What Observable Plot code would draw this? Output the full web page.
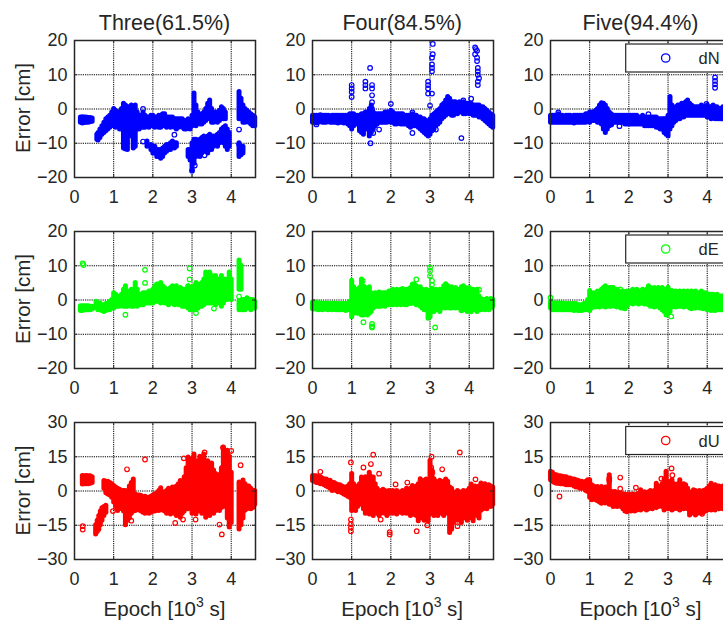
<!DOCTYPE html>
<html><head><meta charset="utf-8">
<script src="https://cdn.jsdelivr.net/npm/d3@7"></script>
<script src="https://cdn.jsdelivr.net/npm/@observablehq/plot@0.6"></script>
<style>
html,body{margin:0;padding:0;background:#fff;}
#wrap{position:relative;width:723px;height:622px;overflow:hidden;font-family:"Liberation Sans",Arial,sans-serif;color:#262626;}
#wrap svg{position:absolute;}
</style></head><body><div id="wrap"></div>
<script>
// ---------- labels / ticks ----------
const colTitles = ["Three(61.5%)", "Four(84.5%)", "Five(94.4%)"];
const seriesNames = ["dN", "dE", "dU"];
const seriesColors = ["#0000ff", "#00ff00", "#ff0000"];
const xTicks = [0, 1, 2, 3, 4];
const xDomain = [0, 4.62];
const yTicksNE = [-20, -10, 0, 10, 20];
const yTicksU = [-30, -15, 0, 15, 30];
const yLabel = "Error [cm]";
const xLabel = "Epoch [10";

// ---------- data: dense bands [epoch(10^3 s), low, high] and isolated points [epoch, value] ----------
// Three / dN
const threeN_band = [[0.15,-4,-2.5],[0.2,-4.2,-2.4],[0.25,-4.1,-2.5],[0.3,-4,-2.5],[0.35,-4,-2.6],[0.4,-3.9,-2.6],[0.45,-3.7,-2.8],
[0.57,-9,-7.5],[0.6,-9.2,-7],[0.65,-8.5,-6],[0.7,-7.5,-5],[0.75,-7,-4],[0.8,-6.5,-3],[0.85,-6,-2.5],[0.9,-5.5,-2],[0.95,-5,-1],[1.0,-5,0],[1.05,-5.5,-0.5],[1.1,-5,-1],[1.15,-6,-1],[1.2,-6,0],[1.25,-11.5,1.5],[1.3,-10,1],[1.35,-12,0.5],[1.4,-7,0.5],[1.45,-8,1],[1.5,-11.5,0.5],[1.55,-11,1],[1.6,-6,-1],[1.65,-6,-2],[1.7,-5.5,-2],[1.75,-5.5,-1],[1.8,-5.5,-2],[1.85,-5,-2.5],[1.9,-5.5,-2.5],[1.95,-5,-2],[2.0,-5,-2],[2.05,-5.5,-2.5],[2.1,-5,-2.5],[2.15,-5.5,-2],[2.2,-5.5,-2],[2.25,-5,-1.5],[2.3,-5,-1.5],[2.35,-5.5,-2.5],[2.4,-5,-2.5],[2.45,-5.5,-2.5],[2.5,-5,-2.5],[2.55,-5.5,-3],[2.6,-6,-3],[2.65,-5.5,-3],[2.7,-5,-3],[2.75,-5.5,-3],[2.8,-6,-3.5],[2.85,-6,-3.5],[2.9,-5.5,-3],[2.95,-6,-3.5],[3.0,-5,-2],[3.05,-4,4.5],[3.1,-5,1],[3.15,-4,-1],[3.2,-4.5,-2],[3.25,-4.5,-1.5],[3.3,-4,-1],[3.35,-3.5,0],[3.4,-3,1.5],[3.45,-3,2.5],[3.5,-4,0],[3.55,-4,-1],[3.6,-3,-1],[3.65,-4,-1],[3.7,-3.5,-0.5],[3.75,-2.5,0.5],[3.8,-3,0],[3.85,-3,-1],
[4.2,-3,5],[4.25,-3,3],[4.3,-4,1],[4.35,-4,0],[4.4,-3.5,-0.5],[4.45,-4,-1],[4.5,-4.5,-1.5],[4.55,-5,-2],[4.6,-5,-2.5],
[1.85,-11,-9.5],[1.95,-12,-10.5],[2.0,-13,-11],[2.05,-13,-11],[2.1,-14,-12],[2.15,-14,-12],[2.2,-14.5,-12],[2.25,-14,-11.5],[2.3,-13,-11],[2.35,-12.5,-10.5],[2.4,-12,-10.5],[2.45,-12,-10],[2.5,-11,-9.5],[2.55,-11.5,-10],[2.6,-11,-10],
[2.9,-14,-12],[2.95,-15,-12],[3.0,-18,-10],[3.05,-16,-9],[3.1,-14,-9],[3.15,-13,-9.5],[3.2,-14,-9],[3.25,-13,-8.5],[3.3,-12,-8],[3.35,-12.5,-8.5],[3.4,-13,-8],[3.45,-12,-7.5],[3.5,-12,-8],[3.55,-11,-8],[3.6,-10.5,-8],[3.65,-11,-7.5],[3.7,-10,-7],[3.75,-9.5,-6],[3.8,-10,-5.5],[3.85,-11,-5],[3.9,-12,-6],[3.95,-11,-7],
[4.2,-14,-10],[4.25,-13.5,-11],[4.3,-13,-11]];
const threeN_pts = [[1.75,-9.5],[1.75,0],[2.55,-7.5],[3.32,-13.5],[3.0,-18],[4.2,-6],[4.2,-10.3],[1.3,-11.5],[3.07,-16.5]];
// Four / dN
const fourN_band = [[0,-4,-2],[0.05,-4,-2],[0.1,-4.2,-2],[0.15,-4,-2],[0.2,-3.8,-1.8],[0.25,-4,-2],[0.3,-4,-2],[0.35,-4,-2],[0.4,-3.8,-2],[0.45,-4,-2.2],[0.5,-4,-2],[0.55,-4,-2],[0.6,-4,-2],[0.65,-4.2,-2],[0.7,-4,-2],[0.75,-4,-2],[0.8,-4.2,-2],[0.85,-4,-2],[0.9,-4.5,-2],[0.95,-5,-1.5],[1.0,-6,-1.5],[1.05,-5,-1.5],[1.1,-4.5,-2],[1.15,-4.5,-2],[1.2,-6.5,-2],[1.25,-7,-1.5],[1.3,-7.5,-1.5],[1.35,-6,-1],[1.4,-6,-1],[1.45,-8,0],[1.5,-7,1],[1.55,-6,-1],[1.6,-5,-1.5],[1.65,-4.5,-1.5],[1.7,-4,-1.5],[1.75,-4,-1.5],[1.8,-4,-1.5],[1.85,-4,-1],[1.9,-4,-1],[1.95,-3.5,-1],[2.0,-4,-0.5],[2.05,-4,-1],[2.1,-4.5,-1.5],[2.15,-4.5,-1.5],[2.2,-4,-1.5],[2.25,-4.5,-1.5],[2.3,-4.5,-1.5],[2.35,-4.5,-2],[2.4,-4.5,-2],[2.45,-5,-2],[2.5,-5.5,-2],[2.55,-5,-1.5],[2.6,-5,-2],[2.65,-5,-2],[2.7,-5.5,-2.5],[2.75,-6,-2.5],[2.8,-6.5,-3],[2.85,-7,-3],[2.9,-7.5,-3.5],[2.95,-8,-4],[3.0,-7.5,-3],[3.05,-6.5,-2],[3.1,-6,-1.5],[3.15,-5,-1],[3.2,-4.5,-0.5],[3.25,-4,0],[3.3,-3,1],[3.35,-2.5,1.5],[3.4,-2,2.5],[3.45,-1.5,3.5],[3.5,-1.5,3],[3.55,-2,2],[3.6,-2,2],[3.65,-1.5,2],[3.7,-1.5,1.5],[3.75,-1,2],[3.8,-1,1.5],[3.85,-1.5,2],[3.9,-1.5,1.5],[3.95,-1,1.5],[4.0,-1.5,1.5],[4.05,-1.5,1.5],[4.1,-2,1],[4.15,-2,1],[4.2,-2,1],[4.25,-2.5,1],[4.3,-2.5,0.5],[4.35,-3,0.5],[4.4,-3.5,0],[4.45,-4,-0.5],[4.5,-4.5,-1],[4.55,-5,-1.5],[4.6,-5.5,-2]];
const fourN_pts = [[0.1,-4.5],[1.0,3.5],[1.0,5],[1.0,6],[1.0,7],[1.35,6],[1.35,7],[1.35,8],[1.47,12],[1.52,0],[1.52,2],[1.52,4],[1.52,6],[1.52,7],[1.48,-10],[1.55,-7],[1.7,-6],[2.0,1.5],[2.55,-1],[2.55,-7],[2.95,4.5],[2.95,6],[2.95,7],[2.95,8],[3.05,11],[3.05,12],[3.05,13],[3.05,15],[3.07,16],[3.07,19],[3.05,4.5],[3.0,1],[3.15,-6],[3.8,-8.5],[3.85,2.5],[4.05,3],[4.15,18],[4.17,17.5],[4.15,16],[4.2,17],[4.2,15],[4.2,14],[4.22,12],[4.22,11],[4.22,10],[4.25,9],[4.22,8],[4.22,7]];
// Five / dN
const fiveN_band = [[0,-4,-2],[0.05,-4,-2],[0.1,-4,-2],[0.15,-4,-2],[0.2,-4,-1.5],[0.25,-4,-2],[0.3,-4,-2],[0.35,-4,-2.2],[0.4,-4,-2],[0.45,-4,-2],[0.5,-4,-2],[0.55,-4,-2.2],[0.6,-4.2,-2],[0.65,-4,-2],[0.7,-4,-2],[0.75,-4,-2],[0.8,-4,-2],[0.85,-4,-2],[0.9,-4,-1.5],[0.95,-3.8,-1.5],[1.0,-4,-1],[1.05,-3.5,-1],[1.1,-3.5,-1],[1.15,-3.5,-0.5],[1.2,-4,0],[1.25,-4,1],[1.3,-4.5,1.7],[1.35,-6,1.5],[1.4,-7,1],[1.45,-6,0],[1.5,-5,-1],[1.55,-4.5,-1.5],[1.6,-4,-2],[1.65,-4,-2],[1.7,-4,-2],[1.75,-4,-2],[1.8,-4,-2],[1.85,-4,-2],[1.9,-4.5,-2],[1.95,-4.5,-2],[2.0,-4.5,-2],[2.05,-4.5,-2],[2.1,-4.5,-2],[2.15,-4.5,-2],[2.2,-4.5,-2],[2.25,-4.5,-2.5],[2.3,-4.5,-2.5],[2.35,-4.5,-2],[2.4,-5,-2.5],[2.45,-5,-2.5],[2.5,-5,-2.5],[2.55,-5,-2.5],[2.6,-5,-2.5],[2.65,-5,-2.5],[2.7,-5.5,-2.5],[2.75,-5.5,-3],[2.8,-6,-3],[2.85,-6,-3],[2.9,-7,-3],[2.95,-7.5,-3],[3.0,-8,-2],[3.05,-6,3.5],[3.1,-5,1],[3.15,-4,0],[3.2,-3.5,0.5],[3.25,-3,1],[3.3,-3,1],[3.35,-2.5,1.5],[3.4,-2.5,1.5],[3.45,-2,2],[3.5,-2,2.5],[3.55,-2,1.5],[3.6,-2,1],[3.65,-2,0.5],[3.7,-2,0.5],[3.75,-2,0.5],[3.8,-2,0.5],[3.85,-2,1],[3.9,-2,0.5],[3.95,-2,0.5],[4.0,-2.5,1],[4.05,-2.5,0.5],[4.1,-3,0.5],[4.15,-2.5,1],[4.2,-3,0.5],[4.25,-3,0.5],[4.3,-3,0],[4.35,-3,0],[4.4,-3,0.5],[4.45,-3,0],[4.5,-3,0],[4.55,-3,0],[4.6,-3,0]];
const fiveN_pts = [[0.2,-1],[1.55,-4.5],[1.76,-5],[2.5,-1.5],[2.9,-3],[3.98,1.5],[4.2,9.2],[4.2,8.2],[4.2,7.2],[4.2,6.2]];
// Three / dE
const threeE_band = [[0.15,-3.2,-1.8],[0.2,-3.2,-1.8],[0.25,-3,-1.8],[0.3,-3,-1.8],[0.35,-3,-1.8],[0.4,-3,-2],[0.45,-2.8,-2],
[0.55,-2.5,-0.5],[0.6,-3,-1],[0.65,-3,-1],[0.7,-3.2,-1.5],[0.75,-3.5,-1.5],[0.8,-3.2,-1.2],[0.85,-3,-1],[0.9,-3,-0.5],[0.95,-2.5,0],[1.0,-2.5,2],[1.05,-2,1.5],[1.1,-2,1],[1.15,-2,0.5],[1.2,-1.5,1.5],[1.25,-2,3],[1.3,-2,4],[1.35,-2,2],[1.4,-1.5,2.5],[1.45,-2,3],[1.5,-2,2.5],[1.55,-1.5,5],[1.6,-2,3],[1.65,-1.5,1.5],[1.7,-1.5,1.5],[1.75,-1.5,2],[1.8,-1,2],[1.85,-1,2],[1.9,-1,2.5],[1.95,-1,2.5],[2.0,-1,3],[2.05,-0.5,4],[2.1,-0.5,4.5],[2.15,-0.5,4.5],[2.2,-1,5],[2.25,-0.5,4],[2.3,-1,3.5],[2.35,-1,3],[2.4,-1.5,3],[2.45,-1,3.5],[2.5,-1,4],[2.55,-1.5,3.5],[2.6,-1,4],[2.65,-1.5,3],[2.7,-1.5,3.5],[2.75,-2,3],[2.8,-2,3],[2.85,-2,3],[2.9,-2.5,4],[2.95,-3,3],[3.0,-3,3.5],[3.05,-2.5,4],[3.1,-3,5],[3.15,-2.5,4.5],[3.2,-2,4],[3.25,-2,5],[3.3,-1.5,6],[3.35,-1,8],[3.4,-1,7],[3.45,-1,8],[3.5,-1,7],[3.55,-1,6],[3.6,-1.5,7],[3.65,-1,5],[3.7,-1,6],[3.75,-2,7],[3.8,-1,5],[3.85,0,6],[3.9,0,5],[3.95,1,8],[4.0,0,6],
[4.2,3,11.5],[4.25,3,10],
[4.2,-3,-0.5],[4.25,-3,-0.5],[4.3,-3,0],[4.35,-3,0],[4.4,-2.5,0.5],[4.45,-2.5,0],[4.5,-3,0],[4.55,-2.5,0],[4.6,-2.5,-0.5]];
const threeE_pts = [[0.21,10.7],[0.23,10.2],[1.3,-4.3],[1.8,8.8],[1.8,5],[2.94,9.2],[2.94,6],[2.9,4],[3.1,-3.8],[3.56,-2.5],[4.2,1]];
// Four / dE
const fourE_band = [[0,-2.7,-0.7],[0.05,-2.8,-1],[0.1,-2.8,-0.8],[0.15,-3,-1],[0.2,-2.8,-1],[0.25,-3,-1],[0.3,-2.8,-1.2],[0.35,-2.8,-1],[0.4,-3,-1.2],[0.45,-2.8,-1.2],[0.5,-3,-1.2],[0.55,-2.8,-1],[0.6,-3,-1.2],[0.65,-3,-1.2],[0.7,-3,-1.2],[0.75,-3,-1.2],[0.8,-3,-1.2],[0.85,-3.2,-1.2],[0.9,-3,-1],[0.95,-3,-0.5],[1.0,-5,5.6],[1.05,-4,3.7],[1.1,-3.5,2],[1.15,-4,3],[1.2,-4,3.5],[1.25,-4.5,6],[1.3,-4.5,4],[1.35,-4,3.5],[1.4,-4.5,3],[1.45,-4,3.7],[1.5,-3.5,2],[1.55,-2.5,1.5],[1.6,-2,2],[1.65,-2,1.5],[1.7,-2,2],[1.75,-2,1.5],[1.8,-1.5,2],[1.85,-2,2],[1.9,-1.5,2],[1.95,-1.5,2.5],[2.0,-1.5,2.5],[2.05,-1.5,3],[2.1,-1,2.5],[2.15,-1.5,3],[2.2,-1,2.5],[2.25,-1.5,3],[2.3,-1,3.2],[2.35,-1.5,2.5],[2.4,-1.5,3],[2.45,-1,3],[2.5,-1.2,3.5],[2.55,-1,4.5],[2.6,-1,4.5],[2.65,-1.5,4],[2.7,-1.5,3.5],[2.75,-2,3.7],[2.8,-2.5,3],[2.85,-3,2.5],[2.9,-3,3],[2.95,-5.5,2.7],[3.0,-5,2],[3.05,-3.5,3.2],[3.1,-3.5,2.5],[3.15,-3,3],[3.2,-3,2.5],[3.25,-3.5,3],[3.3,-2.5,3],[3.35,-2,4],[3.4,-2.5,4.6],[3.45,-2,4],[3.5,-2.5,3.5],[3.55,-2.5,3.7],[3.6,-2,3],[3.65,-2.5,3.5],[3.7,-2,2.5],[3.75,-2.5,3],[3.8,-3,3.7],[3.85,-2.5,4],[3.9,-3,3.5],[3.95,-3.5,3],[4.0,-3,3.5],[4.05,-3.6,2.5],[4.1,-3,3],[4.15,-3,2.5],[4.2,-3.5,3],[4.25,-3,1],[4.3,-3,0.3],[4.35,-2.5,0],[4.4,-3,0],[4.45,-2.5,0.3],[4.5,-3,0],[4.55,-2.5,0.3],[4.6,-2,0]];
const fourE_pts = [[1.28,5.6],[1.3,-6.5],[1.52,-7],[1.52,-7.7],[1.52,-8],[1.7,2.2],[2.65,6],[3.0,9.5],[3.0,8.5],[3.0,7],[3.05,5.6],[3.05,4.5],[3.05,3.2],[3.13,-8],[3.8,-3],[4.25,3]];
// Five / dE
const fiveE_band = [[0,-2.5,-0.5],[0.05,-3,-1],[0.1,-3,-1],[0.15,-3,-1],[0.2,-3,-1],[0.25,-3,-1],[0.3,-3,-1],[0.35,-3,-1.2],[0.4,-3,-1.2],[0.45,-3,-1.2],[0.5,-3,-1.2],[0.55,-3,-1.2],[0.6,-3.2,-1.2],[0.65,-3,-1.2],[0.7,-3.2,-1.5],[0.75,-3.2,-1.5],[0.8,-3.2,-1.5],[0.85,-3,-1.2],[0.9,-3,-1],[0.95,-2.8,0],[1.0,-3.2,2.6],[1.05,-2.5,1.5],[1.1,-2,2],[1.15,-2.2,1.5],[1.2,-2,2.5],[1.25,-2.2,2],[1.3,-1.5,3],[1.35,-2,3.5],[1.4,-2.2,4],[1.45,-1.5,3],[1.5,-2,3.5],[1.55,-2,3],[1.6,-1.5,3.5],[1.65,-2,2.5],[1.7,-2.2,3],[1.75,-2,2],[1.8,-2.5,2],[1.85,-2.5,2.5],[1.9,-2.7,2],[1.95,-2,2.5],[2.0,-1,2],[2.05,-1,2.5],[2.1,-1.3,3],[2.15,-1,2.5],[2.2,-1,3],[2.25,-1.3,2.5],[2.3,-1,2.5],[2.35,-1,3],[2.4,-1.3,2.5],[2.45,-1,3],[2.5,-1.5,4],[2.55,-2,3.5],[2.6,-1.5,3],[2.65,-2.2,3.5],[2.7,-2,3],[2.75,-2,3.5],[2.8,-2.5,3],[2.85,-3,3.5],[2.9,-3.5,3],[2.95,-4.5,2.5],[3.0,-4,3.6],[3.05,-3.5,2.5],[3.1,-2.2,2.6],[3.15,-2,2],[3.2,-2.2,2.5],[3.25,-2,2],[3.3,-2,2.5],[3.35,-2,2],[3.4,-2.2,2.5],[3.45,-2,2],[3.5,-2,2.5],[3.55,-2.5,2],[3.6,-2.7,2.5],[3.65,-2,2],[3.7,-2.5,2.5],[3.75,-2,2],[3.8,-2.5,2],[3.85,-2.5,2.5],[3.9,-2.7,2],[3.95,-2.5,2],[4.0,-3,1.7],[4.05,-3,1.5],[4.1,-3.2,1.5],[4.15,-3,1.5],[4.2,-3.2,1],[4.25,-3,1.5],[4.3,-3,1],[4.35,-3,1],[4.4,-3,1],[4.45,-3,0.8],[4.5,-3,1],[4.55,-3,0.8],[4.6,-3,1]];
const fiveE_pts = [[0,0.7],[1.78,3.1],[1.75,2.5],[3.08,-4.8],[1.55,3.5]];
// Three / dU
const threeU_band = [[0.2,2.9,6.6],[0.25,3,6.5],[0.3,3,6.6],[0.35,3,6.5],[0.4,3.2,6.5],[0.45,3.5,6],
[0.54,-19,-15],[0.58,-18,-13],[0.62,-17,-11],[0.66,-15,-9],[0.7,-13,-7.5],[0.75,-11,-7],[0.8,-9.5,-6.5],
[0.75,1,4.4],[0.8,-1,4],[0.85,-1.5,4],[0.9,-2,3.5],[0.95,-3,3],[1.0,-5,2.2],[1.05,-7,1.5],[1.1,-8.8,1],[1.15,-7,0.5],[1.2,-8,0],[1.25,-9,0],[1.3,-15,0],[1.35,-13,-1],[1.4,-12,2],[1.45,-10,3.5],[1.5,-9,5],[1.55,-8.8,-1.5],[1.6,-8,-2],[1.65,-8.5,-2],[1.7,-9,-2.2],[1.75,-9.5,-3],[1.8,-10,-2.5],[1.85,-9.5,-3],[1.9,-10,-3],[1.95,-9.5,-2.5],[2.0,-9,-2],[2.05,-9,-1.5],[2.1,-8.5,-1],[2.15,-8.8,0],[2.2,-8,1.2],[2.25,-8.5,-1],[2.3,-9,-0.5],[2.35,-10,0],[2.4,-9.5,1],[2.45,-10.3,0.5],[2.5,-9,1.5],[2.55,-10,1],[2.6,-11,2],[2.65,-10,3],[2.7,-11.7,4.4],[2.75,-10,3],[2.8,-9,6],[2.85,-7.4,10],[2.9,-8,14.7],[2.95,-7,12],[3.0,-10,14],[3.05,-9,16],[3.1,-10.3,10],[3.15,-9,13],[3.2,-8,15],[3.25,-10,12],[3.3,-9,16],[3.35,-11.7,10],[3.4,-10,13],[3.45,-11,8],[3.5,-9,12],[3.55,-10,9],[3.6,-8.8,7.4],[3.65,-8,6],[3.7,-8.8,7],[3.75,-7.4,10],[3.8,-7,19],[3.85,-6,16],[3.9,-12,17.6],[3.95,-16,15],[4.0,-14,8],
[4.2,-16.9,3.7],[4.25,-15,2],[4.3,-12,4.6],[4.35,-8.6,3],[4.4,-8,2],[4.45,-7,2],[4.5,-8,1],[4.55,-7.5,0],[4.6,-6,0]];
const threeU_pts = [[0.21,-15.4],[0.21,-16.9],[0.98,-8.8],[1.34,9.5],[1.8,13.8],[2.57,-14],[2.79,14.3],[2.77,-12.5],[3.09,-12.5],[3.32,16.9],[3.7,-14.7],[3.76,-19],[3.79,19],[4.0,17.6],[4.24,11.3],[1.45,-13]];
// Four / dU
const fourU_band = [[0,4.4,6.6],[0.05,4,6.5],[0.1,3.5,6.5],[0.15,3.5,6],[0.2,3,6],[0.25,3,5.5],[0.3,2.5,5],[0.35,2,5],[0.4,1.5,4.5],[0.45,1,4.5],[0.5,0,3.5],[0.55,0.5,3.5],[0.6,0,3],[0.65,-0.5,2.5],[0.7,-0.5,2.5],[0.75,-1,2],[0.8,-1.5,1.5],[0.85,-2,1.5],[0.9,-2.5,2],[0.95,-3,3],[1.0,-8.8,7.4],[1.05,-8,3],[1.1,-8.8,1.5],[1.15,-7,2],[1.2,-6,3],[1.25,-5.9,5.9],[1.3,-8,4],[1.35,-10,6],[1.4,-9,5],[1.45,-10.3,8],[1.5,-9,6],[1.55,-11,5.9],[1.6,-9,3],[1.65,-10,1],[1.7,-11,-1],[1.75,-10,0],[1.8,-9,0.5],[1.85,-10,0],[1.9,-11,-1],[1.95,-10,0],[2.0,-9,-0.5],[2.05,-10,0],[2.1,-9,-1],[2.15,-10.3,0],[2.2,-9,-1],[2.25,-9.5,-0.5],[2.3,-10,0],[2.35,-9,-0.5],[2.4,-10,1],[2.45,-9.5,0],[2.5,-11,1],[2.55,-10,2.2],[2.6,-10.5,1],[2.65,-11,2],[2.7,-13.2,3],[2.75,-11,5.1],[2.8,-12,3],[2.85,-13,4],[2.9,-12,5],[2.95,-13.2,3],[3.0,-10.3,13.2],[3.05,-9,9],[3.1,-11,5.1],[3.15,-10,4],[3.2,-11,3],[3.25,-9,4.5],[3.3,-10,3],[3.35,-11,4],[3.4,-9,5],[3.45,-10,4],[3.5,-18.4,1.5],[3.55,-17,1],[3.6,-14,-0.7],[3.65,-12,-1],[3.7,-13,0],[3.75,-11,-0.5],[3.8,-14,-1],[3.85,-12,0],[3.9,-11,-0.5],[3.95,-13,0],[4.0,-12,1],[4.05,-11,2.9],[4.1,-13.2,1],[4.15,-10,2],[4.2,-11,1],[4.25,-12,2],[4.3,-8.6,3.3],[4.35,-8,2],[4.4,-7,3],[4.45,-8,2],[4.5,-6,2.5],[4.55,-7,2],[4.6,-6,1.5]];
const fourU_pts = [[0.2,8.4],[0.98,12.5],[0.98,-12.5],[0.98,-14.5],[0.98,-16],[0.98,-17.6],[1.3,10.3],[1.49,11.8],[1.55,15.9],[1.7,7.6],[1.74,-12.5],[1.97,-19],[1.97,-18],[2.12,2.9],[2.42,3.7],[2.66,-17.6],[2.83,4.4],[2.93,-15],[3.04,15],[3.03,10.3],[3.06,8.1],[3.31,9.5],[3.76,16.9],[3.7,-15.4],[4.16,5.1]];
// Five / dU
const fiveU_band = [[0,4.7,8.4],[0.05,4,8],[0.1,3.5,7],[0.15,3.2,6.9],[0.2,3.2,6.5],[0.25,3,6.5],[0.3,3,6.2],[0.35,2.8,6],[0.4,2.5,6],[0.45,2.5,5.5],[0.5,2.5,5.5],[0.55,2.5,5],[0.6,2,5],[0.65,1.5,4.7],[0.7,1.5,4.5],[0.75,1,4],[0.8,1,4],[0.85,1,3.5],[0.9,0,4],[0.95,-0.4,4.7],[1.0,-3,4.7],[1.05,-4.1,2.5],[1.1,-3.5,2],[1.15,-4,1.5],[1.2,-4.5,1.8],[1.25,-5,1],[1.3,-5.6,1.8],[1.35,-5,1],[1.4,-5.5,1.5],[1.45,-5,1.5],[1.5,-6,6.9],[1.55,-6,-0.4],[1.6,-7,-0.5],[1.65,-6.5,-0.4],[1.7,-7,-1],[1.75,-6.5,-1],[1.8,-7,-1.2],[1.85,-8,-1.5],[1.9,-9,-1.5],[1.95,-9.3,-2],[2.0,-8.5,-1.5],[2.05,-9,-2],[2.1,-8.5,-1.5],[2.15,-9,-2],[2.2,-8.5,-1.5],[2.25,-8,-1.2],[2.3,-8.5,0.3],[2.35,-7.5,-1],[2.4,-8,-0.5],[2.45,-8.5,-1],[2.5,-8,-0.5],[2.55,-7.5,0],[2.6,-8,-0.5],[2.65,-7,0],[2.7,-7.5,3.2],[2.75,-7,2],[2.8,-6.5,1],[2.85,-7,3],[2.9,-8.5,5],[2.95,-7,8.4],[3.0,-8,4],[3.05,-7.5,3],[3.1,-8.5,4.7],[3.15,-8,3],[3.2,-7,2],[3.25,-8,3],[3.3,-8.5,4.7],[3.35,-7,2],[3.4,-8,3],[3.45,-7,2.5],[3.5,-8,1],[3.55,-10.7,-1.2],[3.6,-10,-0.5],[3.65,-9.5,0.3],[3.7,-10.7,0],[3.75,-10,-1],[3.8,-9,0],[3.85,-10,-0.5],[3.9,-9.5,0],[3.95,-9,0.3],[4.0,-8.5,1],[4.05,-8,2],[4.1,-8.5,3.2],[4.15,-8,2],[4.2,-8.5,2.5],[4.25,-7.5,2],[4.3,-8,2],[4.35,-7,1],[4.4,-8,2],[4.45,-7,1],[4.5,-7,1],[4.55,-7,1],[4.6,-7,1]];
const fiveU_pts = [[0.23,-2.4],[1.78,5.9],[1.78,1],[1.7,-1.9],[2.18,1.5],[3.09,9.9],[3.11,6.9],[2.83,5.4],[3.36,-6.3],[3.87,-10],[1.5,5.5],[1.5,4.5]];

const bands = [[threeN_band, fourN_band, fiveN_band],[threeE_band, fourE_band, fiveE_band],[threeU_band, fourU_band, fiveU_band]];
const points = [[threeN_pts, fourN_pts, fiveN_pts],[threeE_pts, fourE_pts, fiveE_pts],[threeU_pts, fourU_pts, fiveU_pts]];
const yTicksByRow = [yTicksNE, yTicksNE, yTicksU];

// ---------- layout ----------
const colLeft = [74, 311.7, 550];
const rowTop = [39.5, 230.5, 422];
const PW = 181, PH = 137, ML = 62, MR = 8, MT = 6, MB = 36;
const INK = "#262626";
const FONT = "'Liberation Sans', Arial, sans-serif";
const wrap = document.getElementById("wrap");

for (let r = 0; r < 3; r++) {
  const yt = yTicksByRow[r];
  const yDom = [yt[0], yt[yt.length - 1]];
  const color = seriesColors[r];
  for (let c = 0; c < 3; c++) {
    const svg = Plot.plot({
      width: ML + PW + MR, height: MT + PH + MB,
      marginLeft: ML, marginRight: MR, marginTop: MT, marginBottom: MB,
      style: {fontFamily: FONT, fontSize: "18px", color: INK, background: "transparent", overflow: "visible"},
      x: {domain: xDomain, ticks: xTicks, label: null},
      y: {domain: yDom, ticks: yt, label: null},
      marks: [
        Plot.gridX(xTicks, {stroke: "#000", strokeOpacity: 1, strokeDasharray: "1.2,1", strokeWidth: 1}),
        Plot.gridY(yt, {stroke: "#000", strokeOpacity: 1, strokeDasharray: "1.2,1", strokeWidth: 1}),
        Plot.ruleX(bands[r][c], {x: d => d[0], y1: d => d[1], y2: d => d[2], stroke: color, strokeWidth: 5, strokeLinecap: "round"}),
        Plot.dot(points[r][c], {x: d => d[0], y: d => d[1], r: 2.3, stroke: color, strokeWidth: 1.2, fill: "none"}),
        Plot.ruleX(xTicks, {x: d => d, stroke: INK, strokeWidth: 1, insetTop: PH - 3}),
        Plot.ruleX(xTicks, {x: d => d, stroke: INK, strokeWidth: 1, insetBottom: PH - 3}),
        Plot.ruleY(yt, {y: d => d, stroke: INK, strokeWidth: 1, insetRight: PW - 3}),
        Plot.ruleY(yt, {y: d => d, stroke: INK, strokeWidth: 1, insetLeft: PW - 3}),
        Plot.axisX(xTicks, {tickSize: 0, tickPadding: 13, fontSize: 18, fill: INK}),
        Plot.axisY(yt, {tickSize: 0, tickPadding: 7, fontSize: 18, fill: INK}),
        Plot.frame({stroke: INK, strokeWidth: 1.5})
      ]
    });
    svg.style.left = (colLeft[c] - ML) + "px";
    svg.style.top = (rowTop[r] - MT) + "px";
    wrap.appendChild(svg);
  }
}

// ---------- titles, axis labels, legends ----------
const ov = d3.select(wrap).append("svg")
  .attr("width", 723).attr("height", 622)
  .style("left", "0px").style("top", "0px")
  .style("font-family", FONT).style("fill", INK);

colTitles.forEach((t, c) => {
  ov.append("text").attr("x", colLeft[c] + PW / 2).attr("y", 29.5)
    .attr("text-anchor", "middle").style("font-size", "21.5px").style("fill", INK).text(t);
  const xl = ov.append("text").attr("x", colLeft[c] + PW / 2).attr("y", 616)
    .attr("text-anchor", "middle").style("font-size", "20.5px").style("fill", INK);
  xl.append("tspan").text(xLabel);
  xl.append("tspan").attr("dy", -9).style("font-size", "14px").text("3");
  xl.append("tspan").attr("dy", 9).text(" s]");
});
rowTop.forEach((t, r) => {
  const cy = t + PH / 2;
  ov.append("text").attr("transform", `translate(29.5,${cy}) rotate(-90)`)
    .attr("text-anchor", "middle").style("font-size", "20.5px").style("fill", INK).text(yLabel);
  const ly = t + 4.5;
  const lg = ov.append("g");
  lg.append("rect").attr("x", 625.7).attr("y", ly).attr("width", 120).attr("height", 28)
    .attr("fill", "#fff").attr("stroke", INK).attr("stroke-width", 1.2);
  lg.append("circle").attr("cx", 665.7).attr("cy", ly + 14).attr("r", 4.2)
    .attr("fill", "none").attr("stroke", seriesColors[r]).attr("stroke-width", 1.3);
  lg.append("text").attr("x", 698.5).attr("y", ly + 20).style("font-size", "16.5px").style("fill", INK).text(seriesNames[r]);
});
</script></body></html>
